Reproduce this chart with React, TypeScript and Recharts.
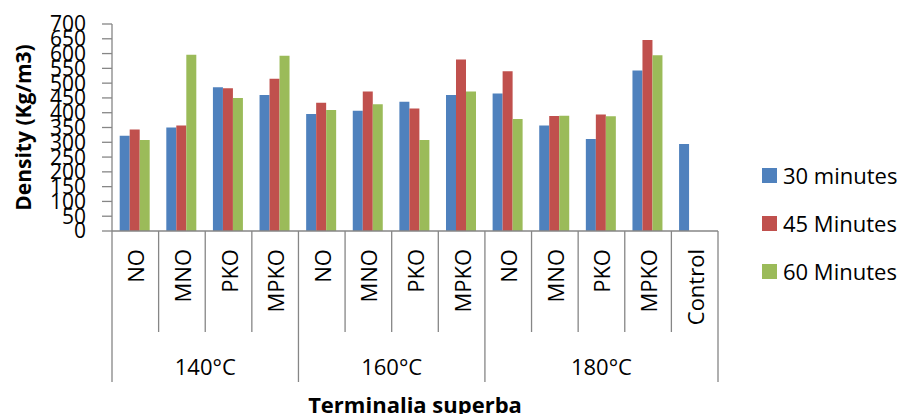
import React from 'react';
import { BarChart, Bar, XAxis, YAxis } from 'recharts';

const categories = ['NO', 'MNO', 'PKO', 'MPKO', 'NO', 'MNO', 'PKO', 'MPKO', 'NO', 'MNO', 'PKO', 'MPKO', 'Control'];
const groupLabels = ['140°C', '160°C', '180°C'];
const groupSizes = [4, 4, 5];
const min30 = [322, 350, 486, 460, 396, 407, 437, 460, 465, 357, 311, 543, 294];
const min45: (number | null)[] = [343, 357, 483, 515, 434, 472, 414, 580, 540, 389, 394, 646, null];
const min60: (number | null)[] = [308, 596, 450, 593, 409, 429, 308, 472, 379, 390, 388, 594, null];
const seriesNames = ['30 minutes', '45 Minutes', '60 Minutes'];
const seriesColors = ['#4F81BD', '#C0504D', '#9BBB59'];
const yTicks = [0, 50, 100, 150, 200, 250, 300, 350, 400, 450, 500, 550, 600, 650, 700];
const yTitle = 'Density (Kg/m3)';
const xTitle = 'Terminalia superba';

const data = categories.map((c, i) => ({ cat: c, s30: min30[i], s45: min45[i], s60: min60[i] }));

const W = 908;
const H = 414;
const M = { top: 24, right: 190, bottom: 0, left: 0 };
const Y_W = 112;
const X_H = 183;
const PLOT_W = W - M.left - M.right - Y_W;
const BAND = PLOT_W / categories.length;
const FONT = '"Open Sans", sans-serif';
const AXIS = '#868686';

const groupStarts: number[] = [];
{
  let s = 0;
  for (const n of groupSizes) {
    groupStarts.push(s);
    s += n;
  }
}

const CatTick = (props: any) => {
  const { x, y, index, payload } = props;
  const i = index ?? payload?.index ?? 0;
  const left = x - BAND / 2;
  const right = x + BAND / 2;
  const gi = groupStarts.indexOf(i);
  const isGroupStart = gi >= 0;
  const isLast = i === categories.length - 1;
  const labelTop = y + 18;
  return (
    <g>
      <line x1={left} y1={y} x2={left} y2={y + (isGroupStart ? 151 : 101)} stroke={AXIS} strokeWidth={1.3} />
      {isLast && <line x1={right} y1={y} x2={right} y2={y + 151} stroke={AXIS} strokeWidth={1.3} />}
      <text
        x={x}
        y={labelTop}
        transform={`rotate(-90 ${x} ${labelTop})`}
        textAnchor="end"
        dominantBaseline="central"
        fontFamily={FONT}
        fontSize={22}
        fill="#000"
      >
        {payload.value}
      </text>
      {isGroupStart && (
        <text
          x={left + (groupSizes[gi] * BAND) / 2}
          y={y + 144}
          textAnchor="middle"
          fontFamily={FONT}
          fontSize={22}
          fill="#000"
        >
          {groupLabels[gi]}
        </text>
      )}
    </g>
  );
};

const YTitle = (props: any) => {
  const vb = props.viewBox || {};
  const cy = (vb.y ?? M.top) + (vb.height ?? 207) / 2;
  return (
    <text
      x={23}
      y={cy}
      transform={`rotate(-90 23 ${cy})`}
      textAnchor="middle"
      dominantBaseline="central"
      fontFamily={FONT}
      fontWeight="bold"
      fontSize={21}
      fill="#000"
    >
      {yTitle}
    </text>
  );
};

const XTitle = (props: any) => {
  const vb = props.viewBox || {};
  const cx = (vb.x ?? Y_W) + (vb.width ?? PLOT_W) / 2;
  return (
    <text x={cx} y={H - 1} textAnchor="middle" fontFamily={FONT} fontWeight="bold" fontSize={22} fill="#000">
      {xTitle}
    </text>
  );
};

export default function App() {
  return (
    <div style={{ position: 'absolute', left: 0, top: 0, width: W, height: H, background: '#fff' }}>
      <BarChart width={W} height={H} data={data} margin={M} barCategoryGap="16.5%" barGap={0}>
        <YAxis
          width={Y_W}
          domain={[0, 700]}
          ticks={yTicks}
          interval={0}
          tickSize={10}
          tickMargin={16}
          tick={{ fontSize: 21, fill: '#000', fontFamily: FONT }}
          axisLine={{ stroke: AXIS, strokeWidth: 1.3 }}
          tickLine={{ stroke: AXIS, strokeWidth: 1.3 }}
          label={{ content: YTitle }}
        />
        <XAxis
          dataKey="cat"
          height={X_H}
          interval={0}
          tickSize={0}
          tickMargin={0}
          tickLine={false}
          axisLine={{ stroke: AXIS, strokeWidth: 1.3 }}
          tick={CatTick}
          label={{ content: XTitle }}
        />
        <Bar dataKey="s30" name={seriesNames[0]} fill={seriesColors[0]} isAnimationActive={false} />
        <Bar dataKey="s45" name={seriesNames[1]} fill={seriesColors[1]} isAnimationActive={false} />
        <Bar dataKey="s60" name={seriesNames[2]} fill={seriesColors[2]} isAnimationActive={false} />
      </BarChart>
      <div style={{ position: 'absolute', left: 762, top: 151, fontFamily: FONT, fontSize: 22, color: '#000' }}>
        {seriesNames.map((n, i) => (
          <div key={n} style={{ display: 'flex', alignItems: 'center', height: 48, whiteSpace: 'nowrap' }}>
            <span style={{ display: 'inline-block', width: 15, height: 15, background: seriesColors[i], marginRight: 6 }} />
            <span>{n}</span>
          </div>
        ))}
      </div>
    </div>
  );
}
